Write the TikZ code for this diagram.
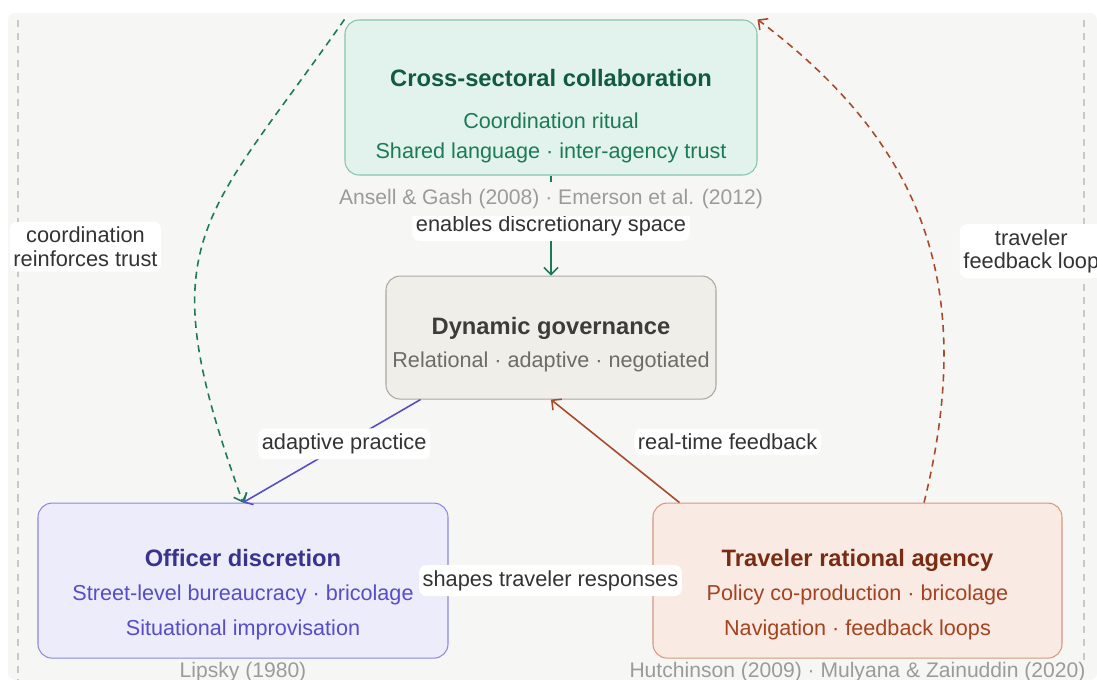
\documentclass[tikz,border=0pt]{standalone}
\usepackage{fontspec}
\setmainfont{Liberation Sans}
\usetikzlibrary{positioning, arrows.meta, backgrounds}

\definecolor{panelbg}{HTML}{F6F6F4}
\definecolor{guide}{HTML}{C9C9C9}
\definecolor{collabfill}{HTML}{E1F3EC}
\definecolor{collabdraw}{HTML}{86C4AE}
\definecolor{collabtitle}{HTML}{145A43}
\definecolor{collabtext}{HTML}{1D7A58}
\definecolor{dynfill}{HTML}{F0EEE8}
\definecolor{dyndraw}{HTML}{ABA9A3}
\definecolor{dyntitle}{HTML}{3C3C3A}
\definecolor{dyntext}{HTML}{6E6C68}
\definecolor{offfill}{HTML}{ECECFA}
\definecolor{offdraw}{HTML}{8D88E2}
\definecolor{offtitle}{HTML}{3A338E}
\definecolor{offtext}{HTML}{564DC8}
\definecolor{travfill}{HTML}{FAEAE4}
\definecolor{travdraw}{HTML}{D7987F}
\definecolor{travtitle}{HTML}{7A2C12}
\definecolor{travtext}{HTML}{A4431F}
\definecolor{travarrow}{HTML}{A84A2A}
\definecolor{citegray}{HTML}{9B9B9B}
\definecolor{labeltext}{HTML}{333333}

\begin{document}
\begin{tikzpicture}[
  card/.style={draw, rounded corners=8pt, line width=0.6pt, align=center,
               font=\fontsize{12.3}{14}\selectfont},
  collabbox/.style={card, fill=collabfill, draw=collabdraw, text=collabtext,
                    minimum width=8.24cm, minimum height=3.1cm},
  dynbox/.style={card, fill=dynfill, draw=dyndraw, text=dyntext,
                 minimum width=6.6cm, minimum height=2.46cm},
  officerbox/.style={card, fill=offfill, draw=offdraw, text=offtext,
                     minimum width=8.2cm, minimum height=3.1cm},
  travelerbox/.style={card, fill=travfill, draw=travdraw, text=travtext,
                      minimum width=8.18cm, minimum height=3.1cm},
  cite/.style={font=\fontsize{12}{14}\selectfont, text=citegray, fill=panelbg, inner sep=1pt},
  pill/.style={fill=white, rounded corners=4pt, text=labeltext, align=center,
               inner xsep=2pt, inner ysep=3pt, font=\fontsize{12.4}{13.2}\selectfont},
  arr/.style={-{Straight Barb[length=4pt, width=8pt]}, line width=0.9pt},
  arrd/.style={arr, dashed, dash pattern=on 4pt off 3pt},
]

\useasboundingbox (-11.02,1.95) rectangle (10.92,-11.65);

% === Panel and side guides ===
\begin{scope}[on background layer]
  \fill[panelbg, rounded corners=4pt] (-10.86,1.69) rectangle (10.92,-11.65);
  \draw[guide, line width=0.6pt, dashed, dash pattern=on 4pt off 3.5pt] (-10.66,1.55) -- (-10.66,-11.65);
  \draw[guide, line width=0.6pt, dashed, dash pattern=on 4pt off 3.5pt] (10.66,1.55) -- (10.66,-11.65);
\end{scope}

% === Cards ===
\node[collabbox] (collab)
  {{\color{collabtitle}\fontsize{13.5}{16}\selectfont\bfseries\rule{0pt}{31pt}Cross-sectoral collaboration}\\[10pt]
   Coordination ritual\\[3.5pt]
   Shared language · inter-agency trust};

\node[dynbox, below=2cm of collab] (dyn)
  {{\color{dyntitle}\fontsize{13.5}{16}\selectfont\bfseries\rule{0pt}{18pt}Dynamic governance}\\[5pt]
   Relational · adaptive · negotiated};

\node[officerbox, below=2.06cm of dyn, xshift=-6.16cm] (officer)
  {{\color{offtitle}\fontsize{13.5}{16}\selectfont\bfseries\rule{0pt}{25.7pt}Officer discretion}\\[5.8pt]
   Street-level bureaucracy · bricolage\\[5.8pt]
   Situational improvisation};

\node[travelerbox, below=2.06cm of dyn, xshift=6.13cm] (traveler)
  {{\color{travtitle}\fontsize{13.5}{16}\selectfont\bfseries\rule{0pt}{25.7pt}Traveler rational agency}\\[5.8pt]
   Policy co-production · bricolage\\[5.8pt]
   Navigation · feedback loops};

% === Links ===
\draw[arr, draw=collabtext] (collab) -- node[pill] {enables discretionary space} (dyn);
\draw[arr, draw=offtext] ([xshift=0.7cm]dyn.south west) -- node[pill, pos=0.43] {adaptive practice} (officer.north);
\draw[arr, draw=travarrow] ([xshift=0.54cm]traveler.north west) -- node[pill, pos=0.59, right=0.6cm] {real-time feedback} (dyn.south);
\draw[arr, draw=labeltext] (officer) -- node[pill] {shapes traveler responses} (traveler);

% dashed feedback loops
\draw[arrd, draw=collabtext] (collab.north west) .. controls +(235:5cm) and +(110:5.6cm) ..
  node[pill, pos=0.52, left=0.8cm] {coordination\\reinforces trust} (officer.north);
\draw[arrd, draw=travarrow] ([xshift=1.33cm]traveler.north) .. controls +(76:4.6cm) and +(-37:4cm) ..
  node[pill, pos=0.44, right=0.57cm] {traveler\\feedback loop} (collab.north east);

% === Sources ===
\node[cite, inner ysep=4pt, below=3.4pt of collab] (collabcite) {Ansell \& Gash (2008) · Emerson et al. (2012)};
\node[cite, below=0.6pt of officer] (officercite) {Lipsky (1980)};
\node[cite, below=0.6pt of traveler] (travelercite) {Hutchinson (2009) · Mulyana \& Zainuddin (2020)};

\end{tikzpicture}
\end{document}
